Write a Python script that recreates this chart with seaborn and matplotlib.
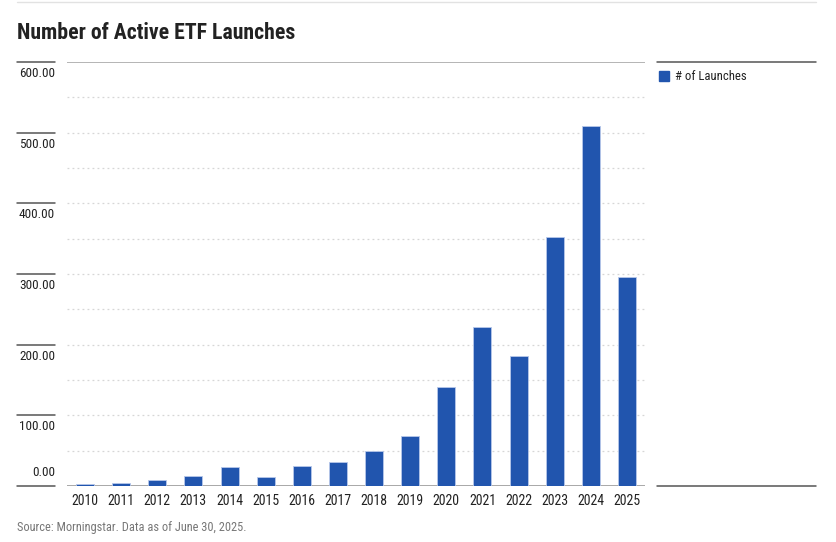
import matplotlib
matplotlib.use('Agg')
import matplotlib.pyplot as plt
import matplotlib.transforms as mtransforms
import seaborn as sns
import pandas as pd
import numpy as np

# Data
years = ['2010', '2011', '2012', '2013', '2014', '2015', '2016', '2017',
         '2018', '2019', '2020', '2021', '2022', '2023', '2024', '2025']
launches = [3, 4, 9, 14, 27, 13, 29, 34, 50, 71, 140, 225, 184, 352, 510, 296]
y_ticks = [0, 100, 200, 300, 400, 500, 600]

BAR = '#2155ae'
TEXT = '#222222'

sns.set_theme(style='white')
plt.rcParams['font.family'] = ['Roboto Condensed', 'DejaVu Sans']

df = pd.DataFrame({'Year': years, 'Launches': launches})

fig = plt.figure(figsize=(8.36, 5.42), dpi=100)
ax = fig.add_axes([67 / 836, 1 - 486 / 542, (645 - 67) / 836, (486 - 62) / 542])

# dotted minor gridlines every 50, solid lines at top and bottom
for v in np.arange(50, 600, 50):
    ax.axhline(v, color='#d6d6d6', lw=0.9, ls=(0, (1.5, 2.5)), zorder=0.5)
ax.axhline(600, color='#a8a8a8', lw=1.2, zorder=0.6)
ax.axhline(0, color='#9a9a9a', lw=1.2, zorder=0.7)

sns.barplot(data=df, x='Year', y='Launches', color=BAR, width=0.5,
            edgecolor='#b7c8ea', linewidth=0.6, saturation=1, ax=ax,
            label='# of Launches', legend=False)

ax.set_xlim(-0.5, len(years) - 0.5)
ax.set_ylim(0, 600)
ax.set_xlabel('')
ax.set_ylabel('')
for s in ax.spines.values():
    s.set_visible(False)

ax.set_yticks(y_ticks)
ax.set_yticklabels([])
ax.tick_params(axis='y', length=0)
ax.tick_params(axis='x', length=0, pad=6, labelsize=10, labelcolor=TEXT)

# y labels sitting below short dark rules at the left
trans = mtransforms.blended_transform_factory(fig.transFigure, ax.transData)
for v in y_ticks:
    ax.plot([17 / 836, 55 / 836], [v, v], transform=trans, color='#555555',
            lw=1.1, clip_on=False)
    if v == 0:
        off = mtransforms.offset_copy(trans, fig=fig, x=0, y=5, units='points')
        va = 'bottom'
    else:
        off = mtransforms.offset_copy(trans, fig=fig, x=0, y=-3.5, units='points')
        va = 'top'
    ax.text(55 / 836, v, f'{v:.2f}', transform=off, ha='right', va=va,
            fontsize=9.5, color=TEXT)

# title, top rule, source
fig.add_artist(plt.Line2D([17 / 836, 816 / 836], [1 - 2 / 542, 1 - 2 / 542],
                          color='#e2e2e2', lw=1))
fig.text(17 / 836, 1 - 33 / 542, 'Number of Active ETF Launches', fontsize=15.7,
         fontweight='bold', color=TEXT, va='center', ha='left')
fig.text(17 / 836, 1 - 528 / 542, 'Source: Morningstar. Data as of June 30, 2025.',
         fontsize=8.9, color='#777777', va='center', ha='left')

# legend panel on the right
fig.add_artist(plt.Line2D([657 / 836, 816 / 836], [1 - 62 / 542, 1 - 62 / 542],
                          color='#555555', lw=1.1))
fig.add_artist(plt.Line2D([657 / 836, 816 / 836], [1 - 486 / 542, 1 - 486 / 542],
                          color='#555555', lw=1.1))
fig.add_artist(plt.Rectangle((659 / 836, 1 - 81 / 542), 10 / 836, 10 / 542,
                             color=BAR, transform=fig.transFigure))
fig.text(675 / 836, 1 - 76 / 542, '# of Launches', fontsize=9.2, color=TEXT,
         va='center', ha='left')

fig.savefig('out.png', dpi=100)
